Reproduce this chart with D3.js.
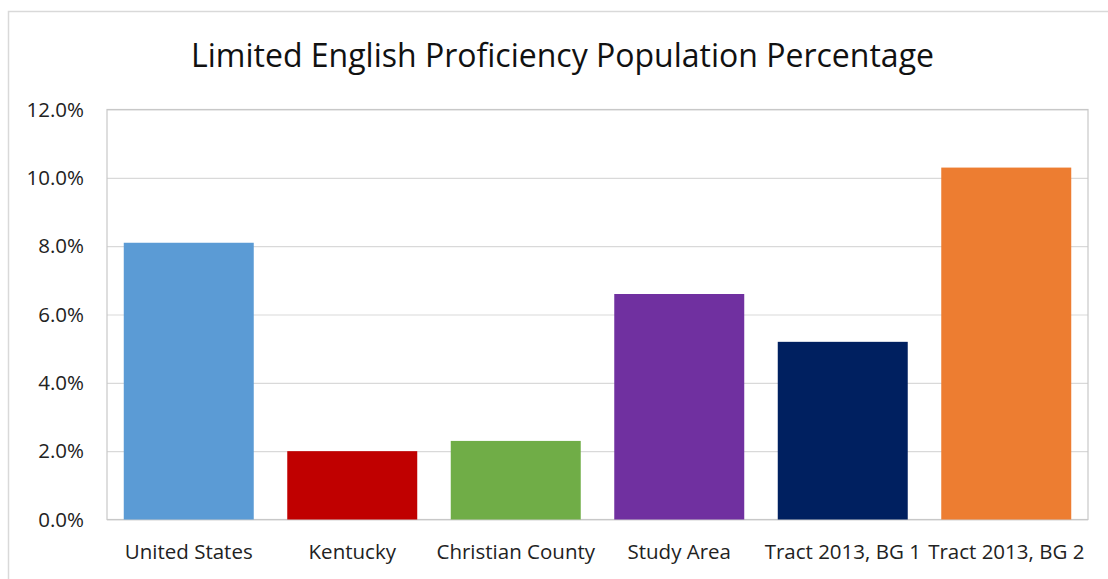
<!DOCTYPE html>
<html><head><meta charset="utf-8">
<script src="https://cdn.jsdelivr.net/npm/d3@7"></script>
<style>body{margin:0;background:#fff}svg{display:block}</style>
</head><body>
<svg id="c" width="1108" height="579"></svg>
<script>
const categories = ["United States","Kentucky","Christian County","Study Area","Tract 2013, BG 1","Tract 2013, BG 2"];
const values = [8.1, 2.0, 2.3, 6.6, 5.2, 10.3];
const colors = ["#5B9BD5","#C00000","#70AD47","#7030A0","#002060","#ED7D31"];
const yTicks = [0, 2, 4, 6, 8, 10, 12];
const title = "Limited English Proficiency Population Percentage";

const svg = d3.select("#c");
const font = "'Open Sans', Lato, sans-serif";
const L = 107, R = 1088, T = 109.5, B = 519.5;

svg.append("rect").attr("x",8.5).attr("y",11.5).attr("width",1120).attr("height",600)
  .attr("fill","#fff").attr("stroke","#D9D9D9").attr("stroke-width",1.5);

const x = d3.scaleBand().domain(categories).range([L,R]).paddingInner(0.205).paddingOuter(0.1025);
const y = d3.scaleLinear().domain([0,12]).range([B,T]);

const yAxis = d3.axisLeft(y).tickValues(yTicks).tickSize(-(R-L)).tickFormat(d => d.toFixed(1)+"%");
const gy = svg.append("g").attr("transform",`translate(${L},0)`).call(yAxis);
gy.select(".domain").remove();
gy.selectAll(".tick line").attr("stroke","#D9D9D9").attr("stroke-width",1.2);
gy.selectAll(".tick text").attr("x",-23).attr("font-family",font).attr("font-size",20.5).attr("fill","#222");

svg.append("rect").attr("x",L).attr("y",T).attr("width",R-L).attr("height",B-T)
  .attr("fill","none").attr("stroke","#C8C8C8").attr("stroke-width",1.2);

svg.append("g").selectAll("rect").data(values).join("rect")
  .attr("x",(d,i)=>x(categories[i]))
  .attr("y",d=>y(d))
  .attr("width",x.bandwidth())
  .attr("height",d=>y(0)-y(d))
  .attr("fill",(d,i)=>colors[i]);

const xAxis = d3.axisBottom(x).tickSize(0).tickPadding(0);
const gx = svg.append("g").attr("transform",`translate(0,${B})`).call(xAxis);
gx.select(".domain").remove();
gx.selectAll(".tick text").attr("dy",0).attr("y",39).attr("font-family",font).attr("font-size",20.5).attr("fill","#222");

svg.append("text").attr("x",562.5).attr("y",67).attr("text-anchor","middle")
  .attr("font-family",font).attr("font-size",32).attr("fill","#111").text(title);
</script>
</body></html>
